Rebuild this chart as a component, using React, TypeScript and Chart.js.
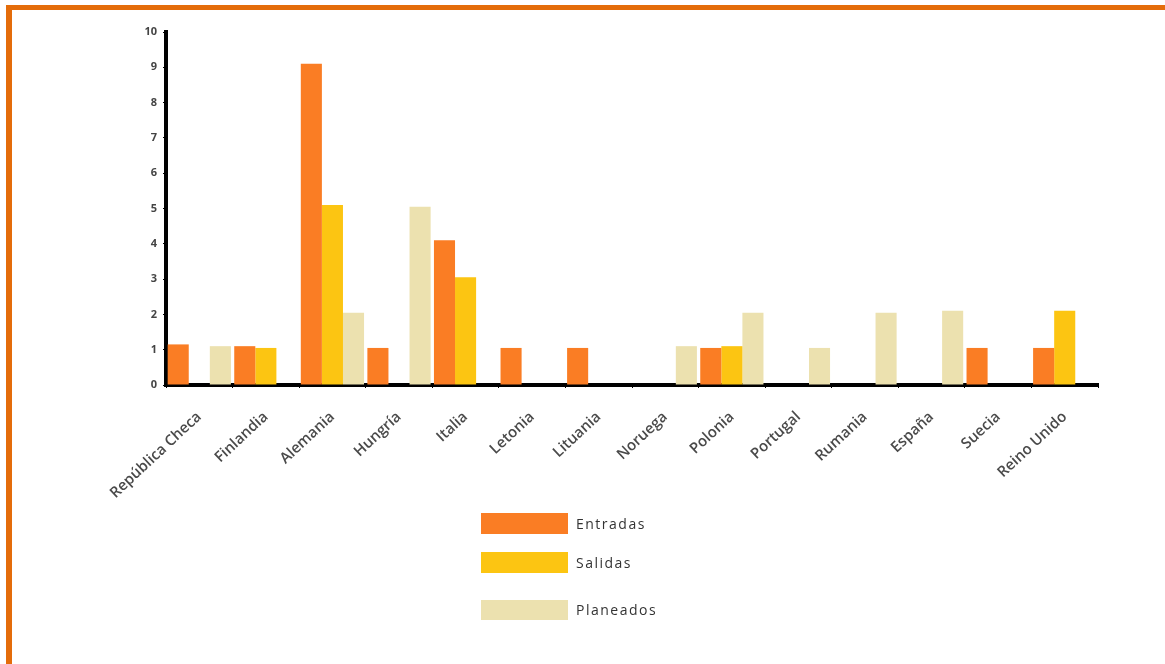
import React, { useEffect, useRef } from "react";
import { Chart, registerables } from "chart.js";

Chart.register(...registerables);

const categories = [
  "República Checa",
  "Finlandia",
  "Alemania",
  "Hungría",
  "Italia",
  "Letonia",
  "Lituania",
  "Noruega",
  "Polonia",
  "Portugal",
  "Rumania",
  "España",
  "Suecia",
  "Reino Unido",
];
const entradas = [1.15, 1.1, 9.1, 1.05, 4.1, 1.05, 1.05, 0, 1.05, 0, 0, 0, 1.05, 1.05];
const salidas = [0, 1.05, 5.1, 0, 3.05, 0, 0, 0, 1.1, 0, 0, 0, 0, 2.1];
const planeados = [1.1, 0, 2.05, 5.05, 0, 0, 0, 1.1, 2.05, 1.05, 2.05, 2.1, 0, 0];
const seriesNames = ["Entradas", "Salidas", "Planeados"];
const seriesColors = ["#FA7D24", "#FCC512", "#ECE1AF"];
const yTicks = [0, 1, 2, 3, 4, 5, 6, 7, 8, 9, 10];

export default function App() {
  const ref = useRef<HTMLCanvasElement | null>(null);

  useEffect(() => {
    if (!ref.current) return;
    const chart = new Chart(ref.current, {
      type: "bar",
      data: {
        labels: categories,
        datasets: [entradas, salidas, planeados].map((d, i) => ({
          label: seriesNames[i],
          data: d,
          backgroundColor: seriesColors[i],
          borderWidth: 0,
          categoryPercentage: 0.95,
          barPercentage: 1.0,
        })),
      },
      options: {
        responsive: false,
        animation: false,
        layout: { padding: { left: 0, right: 67, top: 32, bottom: 0 } },
        plugins: {
          legend: { display: false },
          tooltip: { enabled: false },
        },
        scales: {
          x: {
            grid: {
              display: true,
              drawOnChartArea: false,
              drawTicks: true,
              tickLength: 3,
              color: "#000",
            },
            border: { display: true, color: "#000", width: 4 },
            ticks: {
              autoSkip: false,
              maxRotation: 43,
              minRotation: 43,
              labelOffset: 0,
              padding: 20,
              color: "#4a4a4a",
              font: { family: "Open Sans", size: 15, weight: "600" },
            },
            afterFit: (s: any) => {
              s.height = 135;
            },
          },
          y: {
            min: 0,
            max: 10,
            afterBuildTicks: (s: any) => {
              s.ticks = yTicks.map((v) => ({ value: v }));
            },
            grid: {
              display: true,
              drawOnChartArea: false,
              drawTicks: true,
              tickLength: 3,
              color: "#000",
            },
            border: { display: true, color: "#000", width: 4 },
            ticks: {
              padding: 6,
              color: "#444",
              font: { family: "Open Sans", size: 11, weight: "bold" },
            },
            afterFit: (s: any) => {
              s.width = 166;
            },
          },
        },
      },
    });
    return () => chart.destroy();
  }, []);

  const legendTops = [513, 552, 600];
  const legendHeights = [21, 21, 20];

  return (
    <div
      style={{
        position: "fixed",
        left: 0,
        top: 0,
        width: 1165,
        height: 664,
        background: "#fff",
        overflow: "hidden",
      }}
    >
      <div style={{ position: "absolute", left: 6, top: 5, width: 1159, height: 5, background: "#E46C0A" }} />
      <div style={{ position: "absolute", left: 6, top: 5, width: 6, height: 659, background: "#E46C0A" }} />
      <canvas ref={ref} width={1165} height={520} style={{ position: "absolute", left: 0, top: 0 }} />
      {seriesNames.map((n, i) => (
        <div key={n}>
          <div
            style={{
              position: "absolute",
              left: 481,
              top: legendTops[i],
              width: 87,
              height: legendHeights[i],
              background: seriesColors[i],
            }}
          />
          <div
            style={{
              position: "absolute",
              left: 576,
              top: legendTops[i] + legendHeights[i] / 2 - 10,
              height: 20,
              lineHeight: "20px",
              fontFamily: "Open Sans",
              fontSize: 14,
              letterSpacing: 1.5,
              color: "#333",
            }}
          >
            {n}
          </div>
        </div>
      ))}
    </div>
  );
}
